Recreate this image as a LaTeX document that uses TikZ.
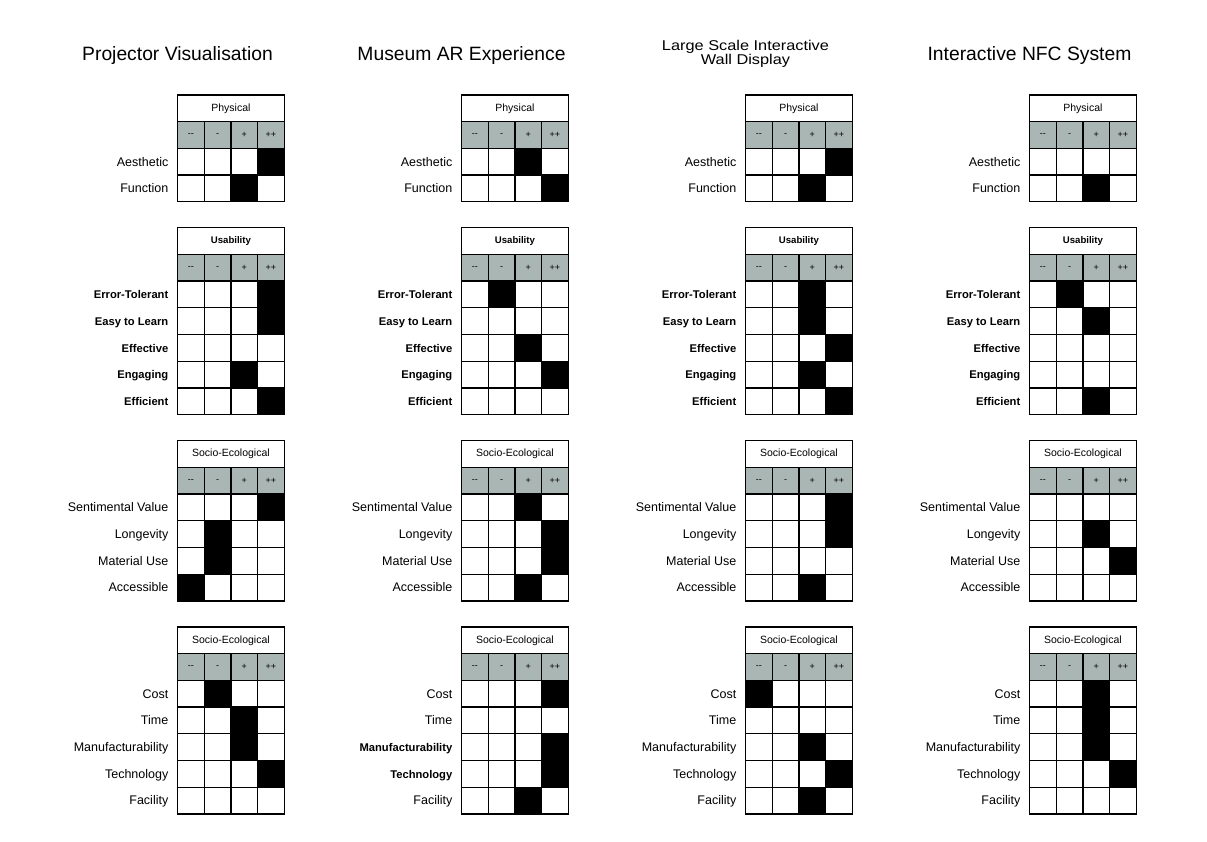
\documentclass[tikz,border=0pt]{standalone}
\usepackage{fontspec}
\setmainfont{Liberation Sans}
\definecolor{headgrey}{RGB}{170,182,180}

\newcommand\cellw{26.7}
\newcommand\cellh{26.7}
\newcommand\heavy[1]{{\fontsize{11.2}{13}\selectfont\bfseries #1}}

\tikzset{
  tabline/.style={line width=1.3pt},
  headfill/.style={fill=headgrey},
  ratefill/.style={fill=black},
  coltitle/.style={anchor=base, font=\fontsize{19.3}{22}\selectfont},
  smalltitle/.style={anchor=base, xscale=1.15, transform shape, font=\fontsize{14.2}{16}\selectfont},
  tabtitle/.style={font=\fontsize{10.5}{12}\selectfont},
  headtxt/.style={font=\fontsize{9}{10}\selectfont},
  rowlbl/.style={anchor=base east, inner sep=0pt, font=\fontsize{12.5}{14}\selectfont},
  boldlbl/.style={rowlbl, font=\fontsize{11.2}{13}\selectfont\bfseries},
}

% grid of one table: name, top, title, number of rows
\newcommand\ratingtable[4]{
  \fill[headfill] (0,{#2+\cellh}) rectangle ++({4*\cellw},\cellh);
  \draw[tabline] (0,#2) rectangle ++({4*\cellw},{(#4+2)*\cellh});
  \foreach \i in {0,...,#4}
    \draw[tabline] (0,{#2+(\i+1)*\cellh}) -- ++({4*\cellw},0);
  \foreach \j in {1,2,3}
    \draw[tabline] ({\j*\cellw},{#2+\cellh}) -- ({\j*\cellw},{#2+(#4+2)*\cellh});
  \node[tabtitle] (#1) at ({2*\cellw},{#2+0.5*\cellh}) {#3};
  \foreach \s [count=\j] in {{{-}{-}},-,+,++}
    \node[headtxt] (#1-h\j) at ({(\j-0.5)*\cellw},{#2+1.5*\cellh}) {\s};
}
% row labels: name, top, style, labels
\newcommand\rowlabels[4]{
  \foreach \t [count=\rr] in {#4}
    \node[#3] (#1-\rr) at (-9,{#2+(\rr+1.5)*\cellh+4.4}) {\t};
}
% black cell: top, row, column
\newcommand\ratecell[3]{
  \fill[ratefill] ({(#3-1)*\cellw},{#1+(#2+1)*\cellh}) rectangle ++(\cellw,\cellh);
}
\newcommand\usab{{\fontsize{9.6}{11}\selectfont\bfseries Usability}}

\begin{document}
\begin{tikzpicture}[x=1pt,y=-1pt]
  \useasboundingbox (0,0) rectangle (1207,842);

  % Projector Visualisation
  \begin{scope}[xshift=177.5pt]
    \node[coltitle] (proj) at (0,60.5) {Projector Visualisation};
    \ratecell{95}{1}{4} \ratecell{95}{2}{3}
    \ratingtable{proj-phys}{95}{Physical}{2}
    \rowlabels{proj-phys}{95}{rowlbl}{Aesthetic,Function}
    \ratecell{227.7}{1}{4} \ratecell{227.7}{2}{4} \ratecell{227.7}{4}{3} \ratecell{227.7}{5}{4}
    \ratingtable{proj-usab}{227.7}{\usab}{5}
    \rowlabels{proj-usab}{227.7}{boldlbl}{Error-Tolerant,Easy to Learn,Effective,Engaging,Efficient}
    \ratecell{440.7}{1}{4} \ratecell{440.7}{2}{2} \ratecell{440.7}{3}{2} \ratecell{440.7}{4}{1}
    \ratingtable{proj-soc}{440.7}{Socio-Ecological}{4}
    \rowlabels{proj-soc}{440.7}{rowlbl}{Sentimental Value,Longevity,Material Use,Accessible}
    \ratecell{627}{1}{2} \ratecell{627}{2}{3} \ratecell{627}{3}{3} \ratecell{627}{4}{4}
    \ratingtable{proj-eco}{627}{Socio-Ecological}{5}
    \rowlabels{proj-eco}{627}{rowlbl}{Cost,Time,Manufacturability,Technology,Facility}
  \end{scope}

  % Museum AR Experience
  \begin{scope}[xshift=461.5pt]
    \node[coltitle] (muse) at (0,60.5) {Museum AR Experience};
    \ratecell{95}{1}{3} \ratecell{95}{2}{4}
    \ratingtable{muse-phys}{95}{Physical}{2}
    \rowlabels{muse-phys}{95}{rowlbl}{Aesthetic,Function}
    \ratecell{227.7}{1}{2} \ratecell{227.7}{3}{3} \ratecell{227.7}{4}{4}
    \ratingtable{muse-usab}{227.7}{\usab}{5}
    \rowlabels{muse-usab}{227.7}{boldlbl}{Error-Tolerant,Easy to Learn,Effective,Engaging,Efficient}
    \ratecell{440.7}{1}{3} \ratecell{440.7}{2}{4} \ratecell{440.7}{3}{4} \ratecell{440.7}{4}{3}
    \ratingtable{muse-soc}{440.7}{Socio-Ecological}{4}
    \rowlabels{muse-soc}{440.7}{rowlbl}{Sentimental Value,Longevity,Material Use,Accessible}
    \ratecell{627}{1}{4} \ratecell{627}{3}{4} \ratecell{627}{4}{4} \ratecell{627}{5}{3}
    \ratingtable{muse-eco}{627}{Socio-Ecological}{5}
    \rowlabels{muse-eco}{627}{rowlbl}{Cost,Time,\heavy{Manufacturability},\heavy{Technology},Facility}
  \end{scope}

  % Large Scale Interactive Wall Display
  \begin{scope}[xshift=745.5pt]
    \node[smalltitle] (wall) at (0,50.5) {Large Scale Interactive};
    \node[smalltitle] (wall-2) at (0,64.5) {Wall Display};
    \ratecell{95}{1}{4} \ratecell{95}{2}{3}
    \ratingtable{wall-phys}{95}{Physical}{2}
    \rowlabels{wall-phys}{95}{rowlbl}{Aesthetic,Function}
    \ratecell{227.7}{1}{3} \ratecell{227.7}{2}{3} \ratecell{227.7}{3}{4} \ratecell{227.7}{4}{3} \ratecell{227.7}{5}{4}
    \ratingtable{wall-usab}{227.7}{\usab}{5}
    \rowlabels{wall-usab}{227.7}{boldlbl}{Error-Tolerant,Easy to Learn,Effective,Engaging,Efficient}
    \ratecell{440.7}{1}{4} \ratecell{440.7}{2}{4} \ratecell{440.7}{4}{3}
    \ratingtable{wall-soc}{440.7}{Socio-Ecological}{4}
    \rowlabels{wall-soc}{440.7}{rowlbl}{Sentimental Value,Longevity,Material Use,Accessible}
    \ratecell{627}{1}{1} \ratecell{627}{3}{3} \ratecell{627}{4}{4} \ratecell{627}{5}{3}
    \ratingtable{wall-eco}{627}{Socio-Ecological}{5}
    \rowlabels{wall-eco}{627}{rowlbl}{Cost,Time,Manufacturability,Technology,Facility}
  \end{scope}

  % Interactive NFC System
  \begin{scope}[xshift=1029.5pt]
    \node[coltitle] (nfc) at (0,60.5) {Interactive NFC System};
    \ratecell{95}{2}{3}
    \ratingtable{nfc-phys}{95}{Physical}{2}
    \rowlabels{nfc-phys}{95}{rowlbl}{Aesthetic,Function}
    \ratecell{227.7}{1}{2} \ratecell{227.7}{2}{3} \ratecell{227.7}{5}{3}
    \ratingtable{nfc-usab}{227.7}{\usab}{5}
    \rowlabels{nfc-usab}{227.7}{boldlbl}{Error-Tolerant,Easy to Learn,Effective,Engaging,Efficient}
    \ratecell{440.7}{2}{3} \ratecell{440.7}{3}{4}
    \ratingtable{nfc-soc}{440.7}{Socio-Ecological}{4}
    \rowlabels{nfc-soc}{440.7}{rowlbl}{Sentimental Value,Longevity,Material Use,Accessible}
    \ratecell{627}{1}{3} \ratecell{627}{2}{3} \ratecell{627}{3}{3} \ratecell{627}{4}{4}
    \ratingtable{nfc-eco}{627}{Socio-Ecological}{5}
    \rowlabels{nfc-eco}{627}{rowlbl}{Cost,Time,Manufacturability,Technology,Facility}
  \end{scope}
\end{tikzpicture}
\end{document}
